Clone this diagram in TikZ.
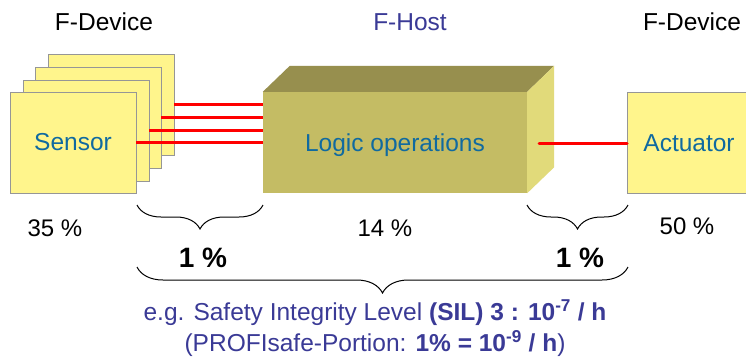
\documentclass[tikz,border=0pt]{standalone}
\usepackage{fontspec}
\setmainfont{Liberation Sans}
\usetikzlibrary{decorations.pathreplacing,calc}
\definecolor{cardfill}{RGB}{255,245,140}
\definecolor{cardline}{RGB}{150,150,150}
\definecolor{labelblue}{RGB}{16,106,160}
\definecolor{hostblue}{RGB}{58,58,150}
\definecolor{boxfront}{RGB}{196,188,100}
\definecolor{boxtop}{RGB}{151,143,78}
\definecolor{boxside}{RGB}{225,218,122}
\definecolor{wirered}{RGB}{255,0,0}
\tikzset{
  card/.style={draw=cardline, line width=0.8pt, fill=cardfill, minimum width=126pt, minimum height=101pt, inner sep=0pt, text=labelblue, font=\fontsize{24.5}{28}\selectfont},
  wire/.style={draw=wirered, line width=3pt},
  heading/.style={font=\fontsize{24.5}{28}\selectfont},
  pct/.style={font=\fontsize{24}{28}\selectfont},
  share/.style={font=\fontsize{28}{32}\selectfont\bfseries},
  curly/.style={draw=black, line width=1pt, decorate, decoration={brace, mirror, amplitude=#1}},
}
\begin{document}
\begin{tikzpicture}[x=1pt, y=-1pt]
\clip (0,0) rectangle (746,360);
\fill[white] (0,0) rectangle (746,360);

% headings
\node[heading] (devL) at (104,22) {F-Device};
\node[heading, text=hostblue] (host) at (410,22) {F-Host};
\node[heading] (devR) at (692,22) {F-Device};

% stacked sensor cards, back to front
\node[card] (card4) at (111,104.5) {};
\node[card] (card3) at (98,117.5) {};
\node[card] (card2) at (86,130.5) {};
\node[card] (sensor) at (73,142.5) {Sensor};

% logic block: front face, top and side faces
\node[fill=boxfront, minimum width=264pt, minimum height=101pt, inner sep=0pt, text depth=0pt,
      text=labelblue, font=\fontsize{24.5}{28}\selectfont] (logic) at (395,142.5) {Logic operations};
\fill[boxtop] (logic.north west) -- ++(27,-26) -- ($(logic.north east)+(27,-26)$) -- (logic.north east) -- cycle;
\fill[boxside] (logic.north east) -- ++(27,-26) -- ($(logic.south east)+(27,-26)$) -- (logic.south east) -- cycle;

% actuator
\node[card, anchor=west, minimum width=150pt, text width=124pt, align=left, inner xsep=16pt] (actuator) at (627,143) {Actuator};

% wires
\draw[wire] (card4.east) -- (card4.east -| logic.west);
\draw[wire] (card3.east) -- (card3.east -| logic.west);
\draw[wire] (card2.east) -- (card2.east -| logic.west);
\draw[wire] (sensor.east) -- (sensor.east -| logic.west);
\coordinate (out) at ($(logic.east)+(12,0.5)$);
\draw[wire, line cap=round] (out) -- (actuator.west);

% failure shares
\node[pct] (p35) at (55,228) {35 \%};
\node[pct] (p14) at (385,228) {14 \%};
\node[pct] (p50) at (687,226) {50 \%};

% braces
\coordinate (bl1) at (137,205);
\coordinate (br1) at (263,205);
\coordinate (bl2) at (527,205);
\coordinate (br2) at (628,205);
\coordinate (bl3) at (137,267);
\coordinate (br3) at (628,267);
\draw[curly=24pt] (bl1) -- (br1);
\draw[curly=24pt] (bl2) -- (br2);
\draw[curly=26pt] (bl3) -- (br3);

\node[share] (s1) at (203,258) {1 \%};
\node[share] (s2) at (580,258) {1 \%};

% target figures
\node[text=hostblue, font=\fontsize{24.5}{31}\selectfont, align=center] (sil) at (375,328)
  {e.g. Safety Integrity Level \textbf{(SIL) 3 : 10\textsuperscript{-7} / h}\\
   (PROFIsafe-Portion: \textbf{1\% = 10\textsuperscript{-9} / h})};
\end{tikzpicture}
\end{document}
